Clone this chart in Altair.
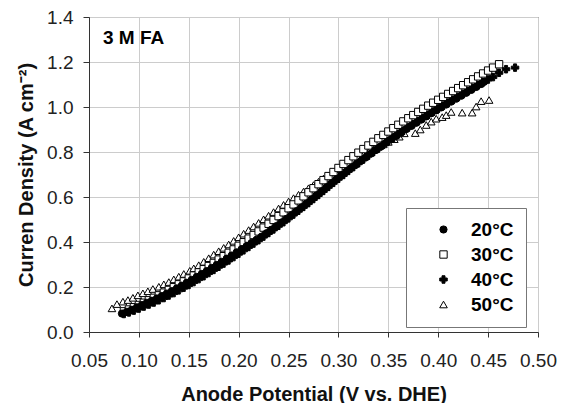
import altair as alt
import pandas as pd

# ---- data ----
series = ["20°C", "30°C", "40°C", "50°C"]

x20 = [0.083, 0.088, 0.093, 0.098, 0.103, 0.108, 0.113, 0.118, 0.123, 0.128,
       0.133, 0.138, 0.143, 0.148, 0.153, 0.158, 0.163, 0.168, 0.173, 0.178,
       0.183, 0.188, 0.193, 0.198, 0.203, 0.208, 0.213, 0.218, 0.223, 0.228,
       0.233, 0.238, 0.243, 0.248, 0.253, 0.258, 0.263, 0.268, 0.273, 0.278,
       0.283, 0.288, 0.293, 0.298, 0.303, 0.308, 0.313, 0.318, 0.323, 0.328,
       0.333, 0.338, 0.343, 0.348, 0.353, 0.358, 0.363, 0.368, 0.373, 0.378,
       0.383, 0.388, 0.393, 0.398, 0.403, 0.408, 0.413, 0.418, 0.423, 0.428,
       0.433, 0.438, 0.443, 0.446]
y20 = [0.082, 0.090, 0.099, 0.110, 0.120, 0.130, 0.139, 0.149, 0.160, 0.171,
       0.182, 0.194, 0.206, 0.219, 0.232, 0.245, 0.258, 0.271, 0.285, 0.298,
       0.312, 0.326, 0.340, 0.354, 0.368, 0.382, 0.396, 0.410, 0.424, 0.439,
       0.455, 0.471, 0.487, 0.503, 0.520, 0.537, 0.554, 0.571, 0.589, 0.607,
       0.625, 0.643, 0.661, 0.679, 0.696, 0.713, 0.730, 0.746, 0.762, 0.778,
       0.794, 0.810, 0.826, 0.842, 0.857, 0.872, 0.887, 0.902, 0.916, 0.930,
       0.944, 0.958, 0.972, 0.985, 0.998, 1.011, 1.024, 1.037, 1.050, 1.063,
       1.076, 1.089, 1.102, 1.112]

x30 = [0.085, 0.090, 0.095, 0.100, 0.105, 0.110, 0.115, 0.120, 0.125, 0.130,
       0.135, 0.140, 0.145, 0.150, 0.155, 0.160, 0.165, 0.170, 0.175, 0.180,
       0.185, 0.190, 0.195, 0.200, 0.205, 0.210, 0.215, 0.220, 0.225, 0.230,
       0.235, 0.240, 0.245, 0.250, 0.255, 0.260, 0.265, 0.270, 0.275, 0.280,
       0.285, 0.290, 0.295, 0.300, 0.305, 0.310, 0.315, 0.320, 0.325, 0.330,
       0.335, 0.340, 0.345, 0.350, 0.355, 0.360, 0.365, 0.370, 0.375, 0.380,
       0.385, 0.390, 0.395, 0.400, 0.405, 0.410, 0.415, 0.420, 0.425, 0.430,
       0.435, 0.440, 0.445, 0.450, 0.455, 0.461]
y30 = [0.092, 0.100, 0.110, 0.120, 0.130, 0.141, 0.152, 0.163, 0.175, 0.187,
       0.199, 0.212, 0.225, 0.238, 0.251, 0.265, 0.279, 0.293, 0.307, 0.322,
       0.337, 0.352, 0.367, 0.383, 0.399, 0.415, 0.431, 0.447, 0.464, 0.481,
       0.498, 0.515, 0.532, 0.550, 0.567, 0.585, 0.603, 0.621, 0.639, 0.657,
       0.675, 0.693, 0.711, 0.729, 0.747, 0.764, 0.781, 0.797, 0.813, 0.829,
       0.845, 0.861, 0.876, 0.891, 0.906, 0.921, 0.936, 0.950, 0.964, 0.978,
       0.992, 1.006, 1.019, 1.032, 1.045, 1.058, 1.071, 1.084, 1.097, 1.110,
       1.123, 1.136, 1.149, 1.162, 1.175, 1.190]

x40 = [0.085, 0.090, 0.095, 0.100, 0.105, 0.110, 0.115, 0.120, 0.125, 0.130,
       0.135, 0.140, 0.145, 0.150, 0.155, 0.160, 0.165, 0.170, 0.175, 0.180,
       0.185, 0.190, 0.195, 0.200, 0.205, 0.210, 0.215, 0.220, 0.225, 0.230,
       0.235, 0.240, 0.245, 0.250, 0.255, 0.260, 0.265, 0.270, 0.275, 0.280,
       0.285, 0.290, 0.295, 0.300, 0.305, 0.310, 0.315, 0.320, 0.325, 0.330,
       0.335, 0.340, 0.345, 0.350, 0.355, 0.360, 0.365, 0.370, 0.375, 0.380,
       0.385, 0.390, 0.395, 0.400, 0.405, 0.410, 0.415, 0.420, 0.425, 0.430,
       0.435, 0.440, 0.445, 0.450, 0.455, 0.461, 0.468, 0.477]
y40 = [0.080, 0.087, 0.095, 0.104, 0.113, 0.122, 0.131, 0.141, 0.151, 0.162,
       0.173, 0.185, 0.197, 0.209, 0.222, 0.235, 0.248, 0.262, 0.276, 0.290,
       0.304, 0.318, 0.333, 0.348, 0.363, 0.378, 0.393, 0.408, 0.424, 0.440,
       0.456, 0.472, 0.488, 0.505, 0.522, 0.539, 0.556, 0.573, 0.591, 0.609,
       0.627, 0.645, 0.663, 0.681, 0.698, 0.716, 0.733, 0.750, 0.767, 0.784,
       0.800, 0.816, 0.832, 0.848, 0.864, 0.879, 0.894, 0.909, 0.923, 0.937,
       0.951, 0.965, 0.979, 0.993, 1.006, 1.019, 1.032, 1.045, 1.058, 1.071,
       1.084, 1.097, 1.110, 1.122, 1.133, 1.152, 1.168, 1.175]

x50 = [0.073, 0.078, 0.084, 0.089, 0.094, 0.099, 0.104, 0.109, 0.114, 0.120,
       0.125, 0.130, 0.135, 0.140, 0.145, 0.151, 0.155, 0.160, 0.165, 0.170,
       0.175, 0.180, 0.185, 0.190, 0.195, 0.200, 0.205, 0.210, 0.215, 0.220,
       0.225, 0.230, 0.235, 0.240, 0.245, 0.250, 0.255, 0.260, 0.265, 0.270,
       0.275, 0.280, 0.285, 0.290, 0.295, 0.300, 0.305, 0.310, 0.315, 0.320,
       0.325, 0.330, 0.335, 0.340, 0.345, 0.350, 0.356, 0.361, 0.366, 0.377,
       0.382, 0.388, 0.393, 0.398, 0.404, 0.408, 0.413, 0.424, 0.434, 0.438,
       0.443, 0.451]
y50 = [0.105, 0.124, 0.135, 0.142, 0.152, 0.163, 0.172, 0.181, 0.191, 0.201,
       0.212, 0.222, 0.234, 0.246, 0.258, 0.272, 0.283, 0.297, 0.312, 0.328,
       0.344, 0.359, 0.374, 0.389, 0.405, 0.421, 0.437, 0.453, 0.469, 0.485,
       0.501, 0.517, 0.533, 0.549, 0.565, 0.580, 0.595, 0.610, 0.624, 0.639,
       0.653, 0.668, 0.682, 0.696, 0.710, 0.723, 0.736, 0.749, 0.762, 0.775,
       0.787, 0.799, 0.811, 0.823, 0.834, 0.845, 0.857, 0.868, 0.883, 0.884,
       0.900, 0.920, 0.935, 0.948, 0.955, 0.964, 0.978, 0.975, 0.975, 1.002,
       1.026, 1.031]

x_ticks = [0.05, 0.10, 0.15, 0.20, 0.25, 0.30, 0.35, 0.40, 0.45, 0.50]
y_ticks = [0.0, 0.2, 0.4, 0.6, 0.8, 1.0, 1.2, 1.4]
annotation = ["3 M FA"]

# ---- table ----
frames = []
# drawing order: open markers first, filled on top
for name, xs, ys in [("50°C", x50, y50), ("30°C", x30, y30),
                     ("40°C", x40, y40), ("20°C", x20, y20)]:
    frames.append(pd.DataFrame({"potential": xs, "current": ys, "temp": name}))
df = pd.concat(frames, ignore_index=True)

FONT = "Liberation Sans"

shapes = ["circle", "square", "cross", "triangle-up"]
fills = ["black", "white", "black", "white"]
strokes = ["black", "black", "black", "black"]
sizes = [52, 58, 26, 62]

legend = alt.Legend(
    title=None, orient="none", legendX=317, legendY=191,
    strokeColor="#777777", fillColor="white", padding=12,
    rowPadding=5, symbolOffset=16, labelOffset=18,
    labelFont=FONT, labelFontSize=19, labelFontWeight="bold",
    labelColor="black", symbolStrokeWidth=1,
)

points = alt.Chart(df).mark_point(
    filled=False, strokeWidth=1, opacity=1
).encode(
    x=alt.X("potential:Q",
            scale=alt.Scale(domain=[0.05, 0.5], nice=False, zero=False),
            axis=alt.Axis(values=x_ticks, format=".2f",
                          title="Anode Potential (V vs. DHE)",
                          titleY=68, titleBaseline="alphabetic",
                          labelPadding=14, tickSize=5,
                          labelOverlap=False, labelFlush=False)),
    y=alt.Y("current:Q",
            scale=alt.Scale(domain=[0, 1.4], nice=False),
            axis=alt.Axis(values=y_ticks, format=".1f",
                          title="Curren Density (A cm⁻²)",
                          titleX=-57, titleBaseline="alphabetic",
                          labelPadding=10, tickSize=6,
                          labelOverlap=False, labelFlush=False)),
    shape=alt.Shape("temp:N", scale=alt.Scale(domain=series, range=shapes), legend=legend),
    fill=alt.Fill("temp:N", scale=alt.Scale(domain=series, range=fills), legend=legend),
    stroke=alt.Stroke("temp:N", scale=alt.Scale(domain=series, range=strokes), legend=legend),
    size=alt.Size("temp:N", scale=alt.Scale(domain=series, range=sizes), legend=legend),
)

label = alt.Chart(pd.DataFrame({"t": annotation})).mark_text(
    align="left", baseline="middle", font=FONT, fontSize=19,
    fontWeight="bold", color="black"
).encode(x=alt.value(14), y=alt.value(21), text="t:N")

chart = (points + label).properties(
    width=449, height=315,
    autosize=alt.AutoSizeParams(type="none"),
    padding={"left": 89, "top": 17, "right": 27, "bottom": 71},
).configure_view(
    stroke="#333333", strokeWidth=1
).configure_axis(
    labelFont=FONT, labelFontSize=19, labelColor="#222222",
    titleFont=FONT, titleFontSize=20, titleFontWeight="bold", titleColor="#111111",
    grid=True, gridColor="#cccccc", gridWidth=1,
    domainColor="#333333", tickColor="#333333", domainWidth=1,
)

chart.save("out.html", embed_options={"renderer": "svg", "actions": False})
